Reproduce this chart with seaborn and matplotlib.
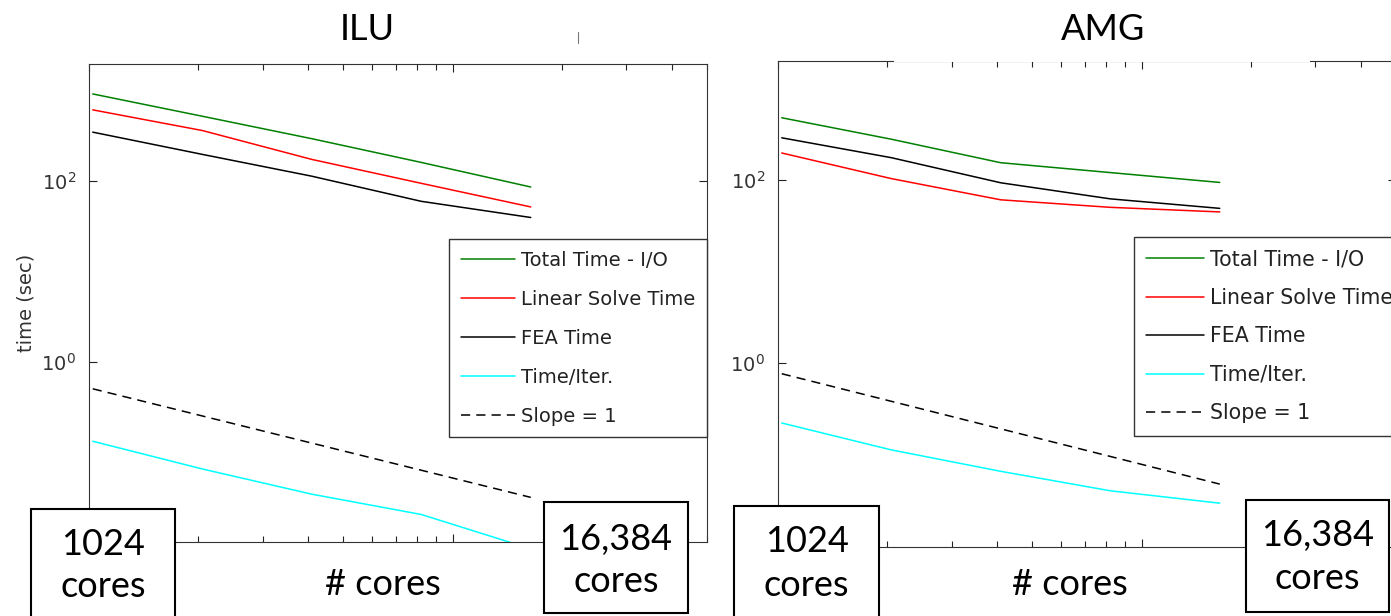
import numpy as np
import pandas as pd
import seaborn as sns
import matplotlib
matplotlib.use("Agg")
import matplotlib.pyplot as plt
from matplotlib.patches import Rectangle
from matplotlib.lines import Line2D
from matplotlib.ticker import FixedLocator, NullLocator, LogLocator, NullFormatter, LogFormatterSciNotation

# ---------------- data ----------------
cores = [1024, 2048, 4096, 8192, 16384]
series_names = ["Total Time - I/O", "Linear Solve Time", "FEA Time", "Time/Iter.", "Slope = 1"]

ilu_total = [931, 527, 297, 162, 86.5]
ilu_linear = [620, 366, 175, 95, 52]
ilu_fea = [351, 199, 114, 60, 39.7]
ilu_iter = [0.131, 0.0646, 0.0339, 0.0202, 0.0084]
ilu_slope = [0.5, 0.25, 0.125, 0.0625, 0.03125]

amg_total = [480, 280, 155, 121, 94.4]
amg_linear = [198, 104, 61, 50.5, 45]
amg_fea = [290, 176, 93.6, 62.5, 49.2]
amg_iter = [0.223, 0.1135, 0.0662, 0.0406, 0.0297]
amg_slope = [0.77, 0.385, 0.1925, 0.09625, 0.048]

titles = ["ILU", "AMG"]
box_left_text = ["1024", "cores"]
box_right_text = ["16,384", "cores"]
xlabel_text = "# cores"
ylabel_text = "time (sec)"

# ---------------- style ----------------
sns.set_style("ticks")
plt.rcParams["font.family"] = ["DejaVu Sans"]

W, H = 1391, 616
fig = plt.figure(figsize=(W / 100, H / 100), dpi=100)
fig.patch.set_facecolor("white")


def fx(px):
    return px / W


def fy(py):
    return 1 - py / H


colors = ["#008000", "#ff0000", "#000000", "#00ffff", "#000000"]
styles = ["-", "-", "-", "-", (0, (6, 4))]

panels = [
    dict(ax=(89, 64, 707, 542), data=[ilu_total, ilu_linear, ilu_fea, ilu_iter, ilu_slope],
         legend=dict(loc="upper right", anchor=(1.0, 1 - (239 - 64) / (542 - 64)), fs=14, ls=1.03)),
    dict(ax=(778, 61, 1396, 546.5), data=[amg_total, amg_linear, amg_fea, amg_iter, amg_slope],
         legend=dict(loc="upper left", anchor=((1134 - 778) / (1396 - 778), 1 - (237 - 61) / (546.5 - 61)),
                     fs=14.8, ls=0.9)),
]

axes = []
for p in panels:
    x0, y0, x1, y1 = p["ax"]
    ax = fig.add_axes([fx(x0), fy(y1), (x1 - x0) / W, (y1 - y0) / H])
    axes.append(ax)
    for name, vals, c, ls in zip(series_names, p["data"], colors, styles):
        df = pd.DataFrame({"cores": cores, "time": vals})
        sns.lineplot(data=df, x="cores", y="time", ax=ax, color=c, linestyle=ls,
                     lw=1.1, label=name, errorbar=None, legend=False)
    ax.set_xscale("log")
    ax.set_yscale("log")
    ax.set_xlim(1e3, 5e4)
    ax.set_ylim(1e-2, 2e3)
    ax.xaxis.set_major_locator(FixedLocator([1e3, 1e4]))
    ax.xaxis.set_minor_locator(LogLocator(base=10, subs=np.arange(2, 10), numticks=20))
    ax.xaxis.set_major_formatter(NullFormatter())
    ax.xaxis.set_minor_formatter(NullFormatter())
    ax.yaxis.set_major_locator(FixedLocator([1e0, 1e2]))
    ax.yaxis.set_minor_locator(NullLocator())
    ax.yaxis.set_major_formatter(LogFormatterSciNotation())
    ax.set_xlabel("")
    ax.set_ylabel("")
    ax.tick_params(which="both", direction="in", top=True, right=True, color="#222222", width=0.8)
    ax.tick_params(which="major", length=6)
    ax.tick_params(which="minor", length=4)
    ax.tick_params(axis="y", labelsize=14, pad=9.5, labelcolor="#333333")
    for s in ax.spines.values():
        s.set_color("#333333")
        s.set_linewidth(0.8)
    lg = p["legend"]
    leg = ax.legend(loc=lg["loc"], bbox_to_anchor=lg["anchor"],
                    fontsize=lg["fs"], frameon=True, fancybox=False, framealpha=1,
                    edgecolor="#333333", handlelength=2.8, handletextpad=0.3,
                    labelspacing=lg["ls"], borderpad=0.6, borderaxespad=0, labelcolor="#222222")
    leg.get_frame().set_linewidth(1.0)

axes[0].set_ylabel(ylabel_text, fontsize=14, color="#333333")
axes[0].yaxis.set_label_coords(-0.087, 0.5)

# cover part of the AMG top spine (as in the screenshot)
fig.add_artist(Rectangle((fx(894), fy(61.6)), (1310 - 894) / W, 14 / H, transform=fig.transFigure,
                         fc="white", ec="none", zorder=5))
# small stray mark near the ILU title
fig.add_artist(Line2D([fx(578), fx(578)], [fy(32), fy(43)], transform=fig.transFigure,
                      color="#777777", lw=0.8, zorder=5))

big_font = dict(family=["Lato", "DejaVu Sans"], fontsize=26, color="black")

# titles
fig.text(fx(367), fy(40), titles[0], ha="center", va="baseline", zorder=12, **big_font)
fig.text(fx(1103), fy(40), titles[1], ha="center", va="baseline", zorder=12, **big_font)

# x labels
fig.text(fx(383), fy(595), xlabel_text, ha="center", va="baseline", zorder=12, **big_font)
fig.text(fx(1070), fy(595), xlabel_text, ha="center", va="baseline", zorder=12, **big_font)

# boxes: (x0, y0, x1, y1, text lines, baselines)
boxes = [
    (31, 509, 175, 625, box_left_text, (555, 597)),
    (544, 502, 688, 613, box_right_text, (550, 592)),
    (734, 506, 879, 625, box_left_text, (552, 596)),
    (1246, 500, 1389, 612, box_right_text, (546, 589)),
]
for x0, y0, x1, y1, lines, bases in boxes:
    fig.add_artist(Rectangle((fx(x0), fy(y1)), (x1 - x0) / W, (y1 - y0) / H,
                             transform=fig.transFigure, fc="white", ec="black", lw=1.5, zorder=10))
    cx = (x0 + x1) / 2
    for t, b in zip(lines, bases):
        fig.text(fx(cx), fy(b), t, ha="center", va="baseline", zorder=12, **big_font)

fig.savefig("out.png", dpi=100, facecolor="white")
